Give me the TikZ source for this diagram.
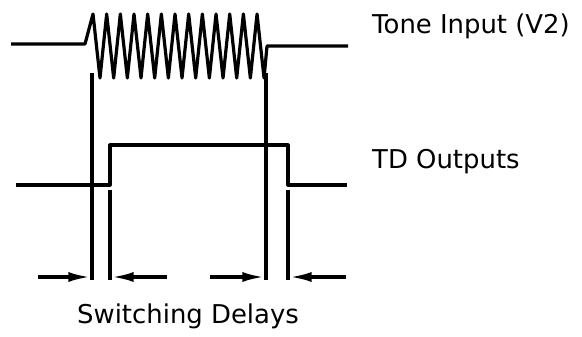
\documentclass[tikz,border=0pt]{standalone}
\usepackage{fontspec}
\setmainfont{DejaVu Sans}
\usetikzlibrary{arrows.meta}
\tikzset{
  wave/.style={line width=3.2bp, line join=round, line cap=butt},
  guide/.style={line width=3.2bp},
  delay/.style={line width=3.2bp, -{Latex[length=22bp,width=10bp]}, shorten >=1.6bp},
  lbl/.style={font=\fontsize{26}{30}\selectfont, inner sep=0pt, anchor=base west}
}
\begin{document}
\begin{tikzpicture}[x=1bp,y=-1bp]
\useasboundingbox (0,0) rectangle (582,336);
% Tone input waveform
\draw[wave] (11,44) -- (85,44)
  \foreach \k in {0,...,12} { -- ({93+13.67*\k},14) -- ({100+13.67*\k},78) }
  -- (267,46) -- (348,46);
% TD output waveform
\draw[wave] (16,185) -- (110,185) -- (110,145) -- (288,145) -- (288,185) -- (347,185);
% guide lines
\coordinate (g1t) at (92,73);   \coordinate (g1b) at (92,280);
\coordinate (g2t) at (110,190); \coordinate (g2b) at (110,280);
\coordinate (g3t) at (266,73);  \coordinate (g3b) at (266,280);
\coordinate (g4t) at (288,190); \coordinate (g4b) at (288,280);
\draw[guide] (g1t) -- (g1b);
\draw[guide] (g2t) -- (g2b);
\draw[guide] (g3t) -- (g3b);
\draw[guide] (g4t) -- (g4b);
% delay arrows
\coordinate (a1) at (38,277);  \coordinate (t1) at (92,277);
\coordinate (a2) at (167,277); \coordinate (t2) at (110,277);
\coordinate (a3) at (210,277); \coordinate (t3) at (266,277);
\coordinate (a4) at (346,277); \coordinate (t4) at (288,277);
\draw[delay] (a1) -- (t1);
\draw[delay] (a2) -- (t2);
\draw[delay] (a3) -- (t3);
\draw[delay] (a4) -- (t4);
% labels
\node[lbl] (tone) at (372,33) {Tone Input (V2)};
\node[lbl] (td) at (372,168) {TD Outputs};
\node[lbl, anchor=base] (sw) at (188,323) {Switching Delays};
\end{tikzpicture}
\end{document}
